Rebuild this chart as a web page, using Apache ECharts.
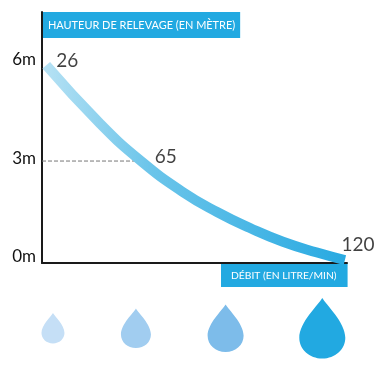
<!DOCTYPE html>
<html>
<head>
<meta charset="utf-8">
<style>html,body{margin:0;padding:0;background:#fff}#c{width:379px;height:365px}</style>
<script src="https://cdn.jsdelivr.net/npm/echarts@6/dist/echarts.min.js"></script>
</head>
<body>
<div id="c"></div>
<script>
var yTicks = [0, 3, 6];
var curvePosition = [1.4, 19.0, 32.7, 46.2, 57.4, 68.2, 79.0, 90.2, 99.3];
var curveHeight = [5.93, 4.15, 2.98, 2.05, 1.44, 0.95, 0.53, 0.2, -0.03];
var flowLabels = ['26', '65', '120'];
var flowPosition = [1.4, 32.7, 100];
var flowHeight = [5.93, 2.98, -0.06];
var dropPosition = [3.6, 30.8, 60.2, 91.9];
var dropWidth = [23, 30, 36, 46];
var dropColor = ['#c5dff6', '#a1cdf0', '#7dbcea', '#22a9e1'];
var yTitle = 'HAUTEUR DE RELEVAGE (EN MÈTRE)';
var xTitle = 'DÉBIT (EN LITRE/MIN)';
var FONT = 'Lato';
var DROP = 'path://M50 0C58 16 100 58 100 96C100 124 78 146 50 146C22 146 0 124 0 96C0 58 42 16 50 0Z';

var chart = echarts.init(document.getElementById('c'), null, {renderer: 'canvas'});
chart.setOption({
  animation: false,
  textStyle: {fontFamily: FONT},
  grid: [
    {left: 42, right: 32, top: 12, bottom: 102, containLabel: false},
    {left: 42, right: 32, top: 290, bottom: 0}
  ],
  xAxis: [
    {type: 'value', gridIndex: 0, min: 0, max: 100,
     splitLine: {show: false}, axisTick: {show: false}, axisLabel: {show: false},
     axisLine: {show: true, onZero: false, lineStyle: {color: '#1a1a1a', width: 2}},
     name: xTitle, nameLocation: 'end', nameGap: -126,
     nameTextStyle: {color: '#fff', backgroundColor: '#22a9e1', fontFamily: FONT, fontSize: 10.3,
       align: 'left', verticalAlign: 'top', padding: [7, 11, 5, 10], lineHeight: 12}},
    {type: 'value', gridIndex: 1, min: 0, max: 100, show: false}
  ],
  yAxis: [
    {type: 'value', gridIndex: 0, min: -0.12, max: 7.56,
     splitLine: {show: false}, axisTick: {show: false},
     axisLine: {show: true, onZero: false, lineStyle: {color: '#1a1a1a', width: 2}},
     axisLabel: {customValues: yTicks, formatter: '{value}m', color: '#111', fontSize: 17, margin: 6,
       fontFamily: FONT, verticalAlign: 'bottom', lineHeight: 6},
     name: yTitle, nameLocation: 'end', nameGap: 0,
     nameTextStyle: {color: '#fff', backgroundColor: '#22a9e1', fontFamily: FONT, fontSize: 10.95,
       align: 'left', verticalAlign: 'top', padding: [7, 5, 7, 6], lineHeight: 12}},
    {type: 'value', gridIndex: 1, min: 0, max: 1, show: false}
  ],
  series: [
    {type: 'line', xAxisIndex: 0, yAxisIndex: 0, silent: true, symbol: 'none',
     data: [[0, yTicks[1]], [curvePosition[2] - 1.5, yTicks[1]]],
     lineStyle: {color: '#777', width: 1, type: [4, 2]}},
    {type: 'line', xAxisIndex: 0, yAxisIndex: 0, silent: true, symbol: 'none', smooth: 0.5, clip: true,
     data: curvePosition.map(function (x, i) { return [x, curveHeight[i]]; }),
     lineStyle: {width: 10, cap: 'butt',
       color: new echarts.graphic.LinearGradient(0, 0, 1, 0, [
         {offset: 0, color: '#b8e2f4'}, {offset: 0.35, color: '#6cc5ea'}, {offset: 1, color: '#27a9e1'}])}},
    {type: 'scatter', xAxisIndex: 0, yAxisIndex: 0, silent: true, symbolSize: 0, clip: false,
     data: flowPosition.map(function (x, i) {
       var off = [[21, -4], [24, -5], [11, -16]][i];
       return {value: [x, flowHeight[i]], label: {show: true, formatter: flowLabels[i], offset: off,
         position: 'inside', color: '#111', fontSize: 19, fontFamily: FONT}};
     })},
    {type: 'scatter', xAxisIndex: 1, yAxisIndex: 1, silent: true,
     symbol: DROP, symbolKeepAspect: false,
     data: dropPosition.map(function (x, i) {
       return {value: [x, 0.49], symbolSize: [dropWidth[i], dropWidth[i] * 1.32],
         itemStyle: {color: dropColor[i], opacity: 1}};
     })}
  ]
});
</script>
</body>
</html>
